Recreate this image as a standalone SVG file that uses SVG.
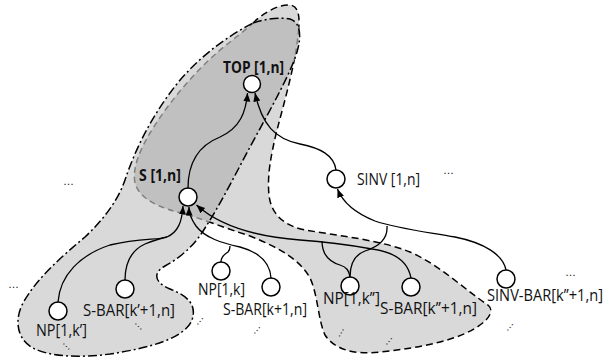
<svg xmlns="http://www.w3.org/2000/svg" width="609" height="360" viewBox="0 0 609 360">
<style>
.lbl{font-family:"Open Sans","Liberation Sans",sans-serif;font-size:15.5px;fill:#111}
.b{font-weight:bold}
.dots{font-family:"Liberation Sans",sans-serif;font-size:11px;fill:#111}
.node{fill:#fff;stroke:#000;stroke-width:1.5}
.edge{fill:none;stroke:#000;stroke-width:1.3}
.arr{marker-end:url(#ah)}
</style>
<defs>
<marker id="ah" markerUnits="userSpaceOnUse" markerWidth="9" markerHeight="8" refX="8.5" refY="3.5" orient="auto">
<path d="M0,0 L8.5,3.5 L0,7 z" fill="#000"/>
</marker>
<path id="pa" d="M253,23 C265,19 280,17 290,19 C300,22 302,35 297,52 C290,75 270,110 250,147 C235,175 220,205 205,228 C195,245 180,258 165,266 C152,273 155,283 170,289 C188,296 197,305 192,320 C185,338 150,348 110,354 C80,358 50,357 33,348 C18,340 14,322 22,305 C35,280 60,258 85,237 C105,218 118,200 125,180 C135,150 150,120 170,93 C190,65 220,40 253,23 Z"/>
<path id="pc" d="M253,23 C262,14 278,4 290,5 C300,6 300,20 298,35 C296,60 285,100 277,130 C271,155 267,175 269,195 C271,215 285,226 305,230 C340,236 380,240 410,252 C440,265 465,290 488,305 C494,310 490,318 480,325 C460,340 420,348 380,352 C355,355 335,350 325,335 C318,320 318,295 310,278 C300,260 280,248 250,236 C225,228 205,220 185,214 C160,208 140,200 135,183 C132,168 140,150 150,133 C170,100 200,65 230,42 C240,34 248,28 253,23 Z"/>
<clipPath id="clipA"><use href="#pa"/></clipPath>
</defs>
<g id="regions">
<use href="#pc" fill="#d9d9d9" stroke="#000" stroke-width="1.5" stroke-dasharray="7 4"/>
<use href="#pa" fill="#d9d9d9" stroke="none"/>
<use href="#pc" clip-path="url(#clipA)" fill="#c0c0c0" stroke="#808080" stroke-width="1.5" stroke-dasharray="6 4"/>
<use href="#pa" fill="none" stroke="#000" stroke-width="1.5" stroke-dasharray="9 3 2 3"/>
</g>
<g id="connectors">
<path class="edge arr" d="M188,188 C188,160 200,145 220,137 C240,128 246,112 247.5,93"/>
<path class="edge arr" d="M336,170 C334,155 320,148 300,144 C275,139 262,125 255,93"/>
<path class="edge" d="M58,302 C60,275 80,255 110,245 C140,238 158,240 167,237"/>
<path class="edge" d="M125,280 C125,262 132,250 145,244 C155,240 161,238 167,237"/>
<path class="edge arr" d="M167,237 C178,232 182,222 183,206"/>
<path class="edge arr" d="M271,278 C270,262 258,252 240,247 C222,243 205,238 196,226 C191,219 189,214 189,207"/>
<path class="edge" d="M221,262 C221,256 225,254 228,252 C230,250 230,248 230,246"/>
<path class="edge arr" d="M411,278 C408,262 395,252 372,249 C350,245 330,242 300,240 C260,237 222,228 196.5,205"/>
<path class="edge" d="M322,241 C322,255 330,262 340,265 C347,267 349,271 350,277"/>
<path class="edge arr" d="M506,270 C503,255 485,243 455,237 C420,231 395,228 375,221 C355,213 343,203 337.5,189"/>
<path class="edge" d="M387,226 C388,240 378,247 365,251 C354,255 350,265 350,277"/>
</g>
<g id="n-top"><circle class="node" cx="252" cy="84" r="8.5"/><text class="lbl b" x="223" y="73" textLength="61" lengthAdjust="spacingAndGlyphs">TOP [1,n]</text></g>
<g id="n-s"><circle class="node" cx="188" cy="197" r="9"/><text class="lbl b" x="139" y="181" textLength="42" lengthAdjust="spacingAndGlyphs">S [1,n]</text></g>
<g id="n-sinv"><circle class="node" cx="336" cy="179" r="9"/><text class="lbl" x="357" y="185" textLength="63" lengthAdjust="spacingAndGlyphs">SINV [1,n]</text></g>
<g id="n-np1k1"><circle class="node" cx="58" cy="311" r="9"/><text class="lbl" x="36" y="336" textLength="51" lengthAdjust="spacingAndGlyphs">NP[1,k’]</text></g>
<g id="n-sbar1"><circle class="node" cx="125" cy="289" r="9"/><text class="lbl" x="83" y="316" textLength="92" lengthAdjust="spacingAndGlyphs">S-BAR[k’+1,n]</text></g>
<g id="n-np1k"><circle class="node" cx="221" cy="271" r="9"/><text class="lbl" x="198" y="295" textLength="47" lengthAdjust="spacingAndGlyphs">NP[1,k]</text></g>
<g id="n-sbar"><circle class="node" cx="271" cy="287" r="9"/><text class="lbl" x="223" y="315" textLength="84" lengthAdjust="spacingAndGlyphs">S-BAR[k+1,n]</text></g>
<g id="n-np1k2"><circle class="node" cx="350" cy="286" r="9"/><text class="lbl" x="323" y="304" textLength="57" lengthAdjust="spacingAndGlyphs">NP[1,k’’]</text></g>
<g id="n-sbar2"><circle class="node" cx="411" cy="287" r="9"/><text class="lbl" x="380" y="314" textLength="97" lengthAdjust="spacingAndGlyphs">S-BAR[k’’+1,n]</text></g>
<g id="n-sinvbar"><circle class="node" cx="506" cy="279" r="9"/><text class="lbl" x="487" y="301" textLength="116" lengthAdjust="spacingAndGlyphs">SINV-BAR[k’’+1,n]</text></g>
<g id="ellipses">
<text class="dots" x="63" y="185">…</text>
<text class="dots" x="443" y="174">…</text>
<text class="dots" x="8" y="288">…</text>
<text class="dots" x="565" y="276">…</text>
<text class="dots" transform="translate(62,343) rotate(45)">…</text>
<text class="dots" transform="translate(134,323) rotate(45)">…</text>
<text class="dots" transform="translate(197,326) rotate(-50)">…</text>
<text class="dots" transform="translate(254,335) rotate(-50)">…</text>
<text class="dots" transform="translate(339,338) rotate(-60)">…</text>
<text class="dots" transform="translate(386,346) rotate(-50)">…</text>
<text class="dots" transform="translate(507,332) rotate(-50)">…</text>
</g>
</svg>
